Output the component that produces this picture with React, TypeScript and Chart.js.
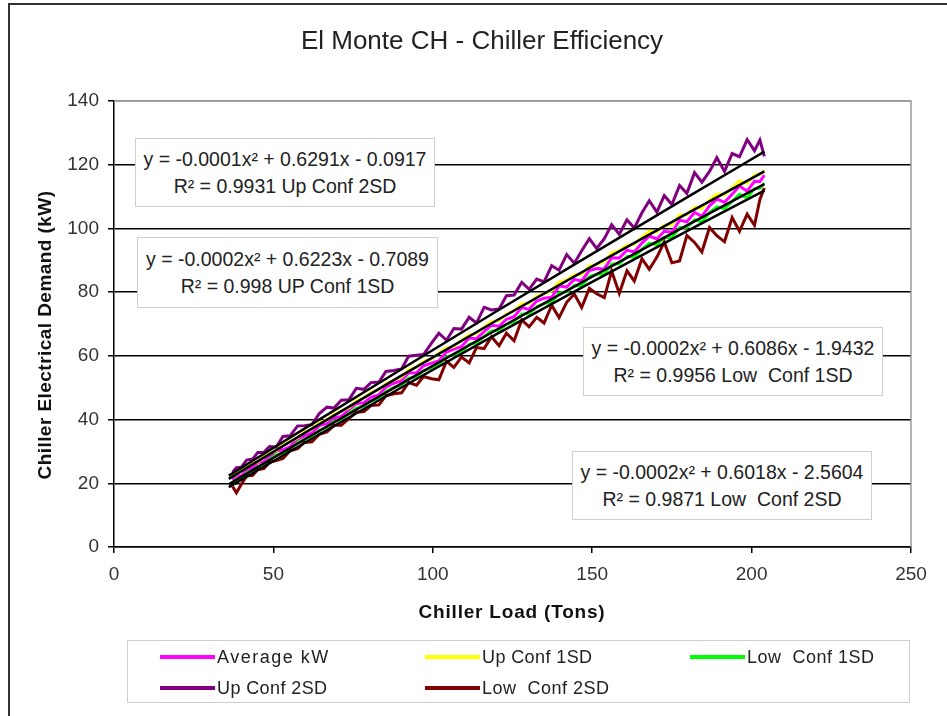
import React, { useEffect, useRef } from 'react';
import { Chart, registerables } from 'chart.js';

Chart.register(...registerables);

const FONT = '"Liberation Sans", Arial, sans-serif';

const chartTitle = 'El Monte CH - Chiller Efficiency';
const xAxisTitle = 'Chiller Load (Tons)';
const yAxisTitle = 'Chiller Electrical Demand (kW)';

const xTickValues = [0, 50, 100, 150, 200, 250];
const yTickValues = [0, 20, 40, 60, 80, 100, 120, 140];

// Chiller load (tons)
const loads = [
  37.2, 38.4, 39.9, 41.6, 43.5, 45.1, 47.0, 48.8, 50.9, 53.0,
  55.2, 57.6, 59.7, 62.1, 64.4, 66.8, 69.0, 71.3, 73.7, 76.0,
  78.4, 80.6, 83.1, 85.3, 87.8, 90.2, 92.4, 94.9, 97.1, 99.6,
  101.9, 104.3, 106.6, 109.0, 111.4, 113.7, 116.1, 118.4, 120.8, 123.1,
  125.5, 127.9, 130.2, 132.6, 134.9, 137.3, 139.6, 142.0, 144.4, 146.7,
  149.1, 151.4, 153.8, 156.1, 158.5, 160.9, 163.2, 165.6, 167.9, 170.3,
  172.6, 175.0, 177.4, 179.7, 182.1, 184.4, 186.8, 189.1, 191.5, 193.9,
  196.2, 198.6, 200.9, 202.6, 204.0,
];

const averageKW = [
  21.0, 22.4, 22.3, 24.2, 25.0, 26.5, 26.8, 28.4, 30.1, 30.5,
  31.5, 33.9, 34.8, 35.8, 38.1, 38.7, 40.5, 41.0, 43.1, 45.0,
  45.3, 47.0, 47.8, 50.2, 51.4, 52.2, 54.6, 54.7, 56.9, 57.7,
  58.4, 61.2, 62.1, 62.9, 65.6, 65.4, 67.6, 69.6, 69.3, 71.5,
  72.3, 75.2, 74.6, 77.2, 78.1, 78.4, 81.9, 81.6, 84.0, 83.5,
  86.8, 87.4, 87.3, 90.8, 90.7, 93.2, 92.6, 95.4, 97.6, 96.7,
  99.1, 98.8, 102.6, 102.1, 105.0, 103.8, 107.1, 109.2, 108.2, 110.7,
  113.3, 111.7, 114.8, 114.7, 116.7,
];

const upConf1SD = [
  22.4, 22.8, 24.1, 24.8, 26.4, 26.7, 28.4, 29.3, 30.2, 32.1,
  33.1, 34.3, 36.0, 37.1, 39.0, 39.9, 41.6, 42.7, 43.7, 45.9,
  46.9, 48.5, 49.4, 51.2, 52.4, 53.4, 55.6, 56.5, 58.2, 59.0,
  60.9, 62.5, 62.9, 64.9, 66.6, 67.0, 69.1, 70.7, 71.1, 73.1,
  74.2, 76.4, 76.5, 78.7, 79.5, 80.5, 83.1, 83.8, 85.4, 85.6,
  88.2, 88.7, 89.6, 92.3, 93.0, 94.7, 95.0, 97.2, 99.1, 98.9,
  101.0, 101.2, 104.2, 104.3, 106.6, 106.3, 108.9, 110.8, 110.5, 112.7,
  114.9, 114.2, 116.7, 116.9, 118.2,
];

const lowConf1SD = [
  20.1, 21.3, 21.6, 23.3, 24.0, 25.2, 25.9, 27.5, 28.9, 29.5,
  30.6, 32.8, 33.7, 34.8, 36.6, 37.6, 39.4, 40.0, 42.0, 43.6,
  44.2, 45.8, 46.7, 48.8, 50.1, 50.9, 53.0, 53.4, 55.4, 56.3,
  57.3, 59.7, 60.4, 61.3, 63.6, 64.1, 66.1, 67.8, 68.0, 69.9,
  70.7, 73.1, 73.2, 75.4, 76.4, 76.9, 79.7, 80.1, 82.1, 82.0,
  84.9, 85.6, 85.7, 88.8, 88.9, 91.2, 91.0, 93.5, 95.3, 94.9,
  97.2, 97.1, 100.3, 100.4, 102.7, 102.0, 105.0, 106.8, 106.2, 108.5,
  110.7, 109.6, 112.5, 112.6, 114.3,
];

const upConf2SD = [
  23.5, 24.9, 25.0, 27.3, 27.6, 29.7, 29.7, 31.5, 31.4, 34.7,
  34.9, 38.0, 38.1, 38.4, 41.9, 43.9, 43.6, 46.1, 46.2, 49.8,
  49.5, 51.6, 51.8, 55.1, 55.4, 55.9, 59.9, 60.2, 60.4, 64.0,
  67.1, 64.9, 68.6, 68.4, 72.1, 70.3, 75.2, 74.4, 74.7, 78.9,
  79.1, 83.1, 80.9, 84.1, 83.2, 88.3, 86.9, 91.8, 89.1, 93.0,
  96.8, 93.7, 96.8, 101.2, 98.2, 102.7, 100.1, 104.9, 108.7, 105.1,
  110.3, 107.5, 113.5, 111.0, 117.5, 114.5, 117.9, 122.2, 117.9, 123.5,
  122.5, 127.9, 124.4, 127.7, 122.6,
];

const lowConf2SD = [
  19.0, 17.0, 19.6, 22.3, 22.5, 24.3, 24.6, 26.6, 27.1, 27.8,
  30.2, 30.9, 32.8, 33.0, 35.4, 36.1, 38.2, 38.2, 40.4, 42.3,
  42.5, 44.4, 44.6, 47.5, 48.1, 48.4, 51.6, 50.8, 53.5, 52.8,
  52.5, 58.3, 56.4, 59.6, 57.8, 62.6, 62.3, 66.0, 63.2, 67.1,
  64.7, 71.3, 69.1, 72.1, 70.3, 75.9, 72.0, 76.8, 79.4, 75.2,
  81.2, 79.5, 78.3, 86.6, 79.6, 86.7, 83.5, 90.5, 87.2, 91.0,
  95.7, 89.2, 89.8, 97.8, 95.6, 92.6, 100.3, 97.7, 95.8, 103.4,
  99.1, 104.5, 101.0, 109.1, 112.7,
];

// Polynomial trendlines, read at a few loads
const trendLoads = [36, 60, 90, 120, 150, 180, 204];
const trendUp2SD = [22.4, 37.3, 55.7, 74.0, 92.0, 109.9, 124.1];
const trendUp1SD = [21.4, 35.9, 53.7, 71.1, 88.1, 104.8, 117.9];
const trendLow1SD = [19.7, 33.9, 51.2, 68.2, 84.9, 101.1, 113.9];
const trendLow2SD = [18.8, 32.8, 50.0, 66.8, 83.2, 99.3, 111.9];

const equationLines = [
  ['y = -0.0001x\u00B2 + 0.6291x - 0.0917', 'R\u00B2 = 0.9931 Up Conf 2SD'],
  ['y = -0.0002x\u00B2 + 0.6223x - 0.7089', 'R\u00B2 = 0.998 UP Conf 1SD'],
  ['y = -0.0002x\u00B2 + 0.6086x - 1.9432', 'R\u00B2 = 0.9956 Low  Conf 1SD'],
  ['y = -0.0002x\u00B2 + 0.6018x - 2.5604', 'R\u00B2 = 0.9871 Low  Conf 2SD'],
];
const equationBoxes = [
  { left: 135, top: 138, width: 300, height: 69 },
  { left: 137, top: 237, width: 301, height: 71 },
  { left: 583, top: 327, width: 300, height: 69 },
  { left: 572, top: 451, width: 300, height: 69 },
];

const seriesNames = ['Average kW', 'Up Conf 1SD', 'Low  Conf 1SD', 'Up Conf 2SD', 'Low  Conf 2SD'];
const seriesColors = ['#FF00FF', '#FFFF00', '#00FF00', '#800080', '#800000'];
const legendSlots = [
  { x: 160, y: 657, spacing: 1.5 },
  { x: 425, y: 657, spacing: 0.4 },
  { x: 690, y: 657, spacing: 0.5 },
  { x: 160, y: 688, spacing: 0.4 },
  { x: 425, y: 688, spacing: 0.5 },
];

const toPoints = (xs: number[], ys: number[]) => xs.map((x, i) => ({ x, y: ys[i] }));

const plotBorder = {
  id: 'plotBorder',
  beforeDatasetsDraw(chart: any) {
    const { ctx, chartArea } = chart;
    ctx.save();
    ctx.strokeStyle = '#9a9a9a';
    ctx.lineWidth = 1.5;
    ctx.beginPath();
    ctx.moveTo(chartArea.left, chartArea.top);
    ctx.lineTo(chartArea.right, chartArea.top);
    ctx.lineTo(chartArea.right, chartArea.bottom);
    ctx.stroke();
    ctx.restore();
  },
};

export default function App() {
  const canvasRef = useRef<HTMLCanvasElement | null>(null);

  useEffect(() => {
    if (!canvasRef.current) return;
    const seriesData = [averageKW, upConf1SD, lowConf1SD, upConf2SD, lowConf2SD];
    const seriesOrder = [5, 4, 3, 2, 1];
    const datasets: any[] = seriesData.map((vals, i) => ({
      label: seriesNames[i],
      data: toPoints(loads, vals),
      borderColor: seriesColors[i],
      backgroundColor: seriesColors[i],
      borderWidth: 3,
      pointRadius: 0,
      tension: 0,
      order: seriesOrder[i],
    }));
    [trendUp2SD, trendUp1SD, trendLow1SD, trendLow2SD].forEach((vals, i) => {
      datasets.push({
        label: 'trend' + i,
        data: toPoints(trendLoads, vals),
        borderColor: '#000000',
        borderWidth: 2.5,
        pointRadius: 0,
        cubicInterpolationMode: 'monotone',
        order: 0,
      });
    });

    const chart = new Chart(canvasRef.current, {
      type: 'line',
      data: { datasets },
      plugins: [plotBorder],
      options: {
        responsive: false,
        animation: false,
        events: [],
        layout: { padding: { left: 0, right: 36, top: 101, bottom: 89 } },
        plugins: {
          legend: { display: false },
          title: { display: false },
          tooltip: { enabled: false },
        },
        scales: {
          x: {
            type: 'linear',
            min: 0,
            max: 250,
            afterBuildTicks: (scale: any) => {
              scale.ticks = xTickValues.map((v) => ({ value: v }));
            },
            afterFit: (scale: any) => {
              scale.height = 80;
            },
            ticks: {
              font: { family: FONT, size: 19 },
              color: '#333',
              padding: 10,
              maxRotation: 0,
            },
            grid: {
              drawOnChartArea: false,
              drawTicks: true,
              tickLength: 6,
              color: '#000',
              lineWidth: 1.5,
            },
            border: { display: true, color: '#000', width: 1.5 },
            title: { display: false },
          },
          y: {
            type: 'linear',
            min: 0,
            max: 140,
            afterBuildTicks: (scale: any) => {
              scale.ticks = yTickValues.map((v) => ({ value: v }));
            },
            afterFit: (scale: any) => {
              scale.width = 114;
            },
            ticks: {
              font: { family: FONT, size: 19 },
              color: '#333',
              padding: 9,
            },
            grid: {
              drawOnChartArea: true,
              drawTicks: true,
              tickLength: 6,
              color: (ctx: any) => (ctx.tick && ctx.tick.value === 140 ? '#9a9a9a' : '#000'),
              tickColor: '#000',
              lineWidth: 1.5,
            },
            border: { display: true, color: '#000', width: 1.5 },
            title: { display: false },
          },
        },
      } as any,
    });
    return () => chart.destroy();
  }, []);

  return (
    <div style={{ position: 'absolute', left: 0, top: 0, width: 947, height: 716, background: '#fff', overflow: 'hidden', fontFamily: FONT }}>
      <canvas ref={canvasRef} width={947} height={716} style={{ position: 'absolute', left: 0, top: 0 }} />
      <div style={{ position: 'absolute', left: 8, top: 3, width: 960, height: 740, border: '2px solid #333', boxSizing: 'border-box', pointerEvents: 'none' }} />
      <div style={{ position: 'absolute', left: 232, top: 24, width: 500, textAlign: 'center', fontSize: 26, lineHeight: '32px', color: '#222' }}>
        {chartTitle}
      </div>
      <div style={{ position: 'absolute', left: 312, top: 600, width: 400, textAlign: 'center', fontSize: 19, fontWeight: 'bold', lineHeight: '24px', letterSpacing: '0.8px', color: '#111', whiteSpace: 'pre' }}>
        {xAxisTitle}
      </div>
      <div style={{ position: 'absolute', left: 45, top: 335, transform: 'translate(-50%, -50%) rotate(-90deg)', fontSize: 19, fontWeight: 'bold', lineHeight: '24px', letterSpacing: '0.45px', color: '#111', whiteSpace: 'pre' }}>
        {yAxisTitle}
      </div>
      {equationBoxes.map((b, i) => (
        <div
          key={i}
          style={{
            position: 'absolute',
            left: b.left,
            top: b.top,
            width: b.width,
            height: b.height,
            boxSizing: 'border-box',
            border: '1.5px solid #cfcfcf',
            background: '#fff',
            display: 'flex',
            flexDirection: 'column',
            justifyContent: 'center',
            alignItems: 'center',
            fontSize: 19.5,
            lineHeight: '27px',
            color: '#222',
            whiteSpace: 'pre',
          }}
        >
          <div>{equationLines[i][0]}</div>
          <div>{equationLines[i][1]}</div>
        </div>
      ))}
      <div style={{ position: 'absolute', left: 127, top: 640, width: 783, height: 63, boxSizing: 'border-box', border: '1.5px solid #cfcfcf', background: '#fff' }} />
      {legendSlots.map((s, i) => (
        <div key={i} style={{ position: 'absolute', left: s.x, top: s.y - 14, height: 28, display: 'flex', alignItems: 'center', whiteSpace: 'pre' }}>
          <div style={{ width: 55, height: 4, background: seriesColors[i] }} />
          <div style={{ marginLeft: 2, fontSize: 18, letterSpacing: s.spacing + 'px', color: '#222' }}>{seriesNames[i]}</div>
        </div>
      ))}
    </div>
  );
}
